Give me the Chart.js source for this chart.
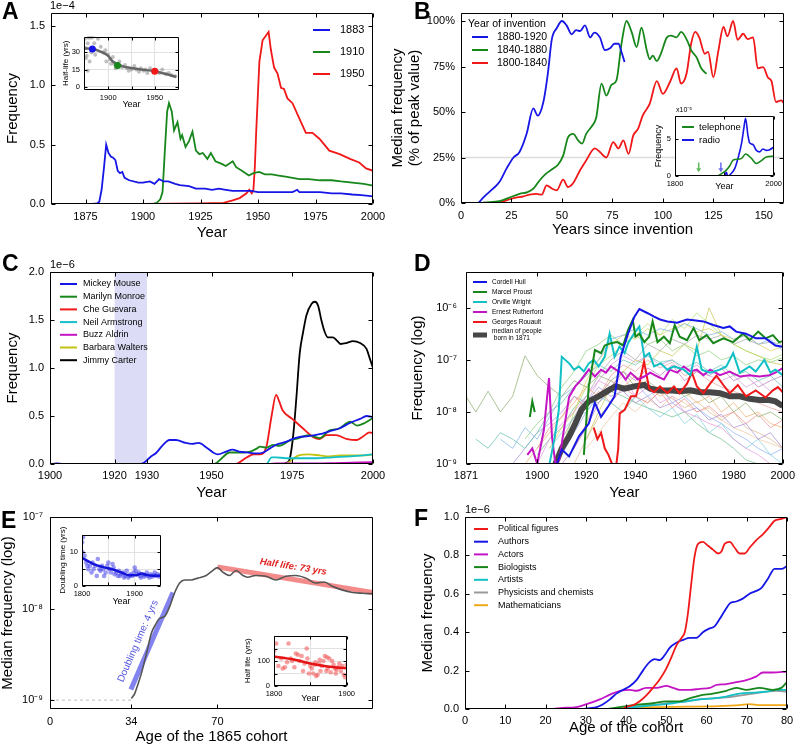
<!DOCTYPE html>
<html lang="en">
<head>
<meta charset="UTF-8">
<title>Fame curves</title>
<script src="https://cdn.jsdelivr.net/npm/chart.js"></script>
<style>
  body { margin: 0; background: #fff; font-family: 'Liberation Sans', Arial, sans-serif; }
  #page { position: relative; width: 800px; height: 746px; overflow: hidden; }
  canvas { position: absolute; }
  .tag { position: absolute; font-weight: bold; font-size: 23px; line-height: 1; }
  .exp { position: absolute; font-size: 11px; line-height: 1; }
</style>
</head>
<body>
<div id="page">
  <canvas id="cA" width="400" height="245" style="left:0;top:0"></canvas>
  <canvas id="cB" width="410" height="245" style="left:390px;top:0"></canvas>
  <canvas id="cC" width="400" height="257" style="left:0;top:245px"></canvas>
  <canvas id="cD" width="400" height="257" style="left:400px;top:245px"></canvas>
  <canvas id="cE" width="400" height="256" style="left:0;top:490px"></canvas>
  <canvas id="cF" width="400" height="256" style="left:400px;top:490px"></canvas>
  <canvas id="iA" width="130" height="84" style="left:55px;top:28px"></canvas>
  <canvas id="iB" width="140" height="86" style="left:645px;top:106px"></canvas>
  <canvas id="iE1" width="112" height="84" style="left:55px;top:526px"></canvas>
  <canvas id="iE2" width="115" height="78" style="left:243px;top:627px"></canvas>

  <div class="tag" style="left:2px;top:0">A</div>
  <div class="tag" style="left:414px;top:0">B</div>
  <div class="tag" style="left:2px;top:252px">C</div>
  <div class="tag" style="left:414px;top:252px">D</div>
  <div class="tag" style="left:1px;top:509px">E</div>
  <div class="tag" style="left:414px;top:507px">F</div>
  <div class="exp" style="left:50px;top:0">1e−4</div>
  <div class="exp" style="left:50px;top:259px">1e−6</div>
  <div class="exp" style="left:465px;top:504px">1e−6</div>
  <div class="exp" style="left:676px;top:106px;font-size:7px">x10⁻⁵</div>
</div>

<script>
// ---------- A: frequency of years ----------
const a1883 = [[1860,0],[1878,0],[1880,0.005],[1881,0.02],[1882,0.12],[1883,0.3],[1884,0.5],[1885,0.43],[1886,0.4],[1887,0.39],[1888,0.37],[1889,0.28],[1890,0.26],[1891,0.27],[1892,0.22],[1894,0.2],[1898,0.18],[1900,0.18],[1903,0.19],[1905,0.17],[1907,0.21],[1909,0.19],[1911,0.19],[1914,0.17],[1916,0.16],[1920,0.15],[1923,0.13],[1927,0.13],[1930,0.12],[1933,0.13],[1936,0.12],[1939,0.11],[1943,0.11],[1947,0.11],[1950,0.1],[1953,0.1],[1957,0.1],[1961,0.1],[1965,0.1],[1966,0.11],[1967,0.12],[1968,0.1],[1972,0.1],[1977,0.1],[1982,0.09],[1986,0.09],[1991,0.08],[1995,0.075],[2000,0.065]];
const a1910 = [[1860,0],[1904,0],[1906,0.01],[1907.5,0.04],[1908.5,0.1],[1909.5,0.45],[1910.5,0.78],[1911.3,0.85],[1912.5,0.78],[1913.5,0.62],[1915,0.69],[1916.3,0.55],[1917,0.58],[1918.5,0.48],[1920,0.53],[1921.5,0.61],[1923,0.45],[1924.5,0.42],[1926,0.43],[1928,0.38],[1929.5,0.43],[1931.5,0.36],[1934,0.34],[1936,0.32],[1939,0.36],[1940.5,0.31],[1943,0.28],[1946,0.24],[1948,0.26],[1950.5,0.27],[1953,0.25],[1956,0.25],[1959,0.24],[1962,0.23],[1965,0.22],[1968,0.21],[1972,0.21],[1977,0.2],[1982,0.2],[1986,0.19],[1991,0.18],[1996,0.17],[2000,0.155]];
const a1950 = [[1860,0],[1900,0],[1925,0.005],[1935,0.01],[1939,0.03],[1942,0.05],[1945,0.09],[1946.2,0.12],[1947.3,0.09],[1948,0.12],[1948.6,0.3],[1949.2,0.6],[1950.6,1.2],[1952,1.38],[1953.5,1.42],[1954.6,1.45],[1955.6,1.3],[1957,1.15],[1958.5,1.1],[1960,0.98],[1961.3,0.97],[1962.8,0.89],[1965,0.85],[1968,0.72],[1970.8,0.6],[1973.7,0.6],[1976.7,0.55],[1981,0.45],[1985.5,0.42],[1990,0.38],[1994,0.35],[1997,0.3],[2000,0.28]];
const aXTicks = [1875, 1900, 1925, 1950, 1975, 2000];
const aYTicks = [0, 0.5, 1.0, 1.5];
// inset A: half-life by year
const aiPoints = [[1875,42],[1876,25],[1877,27],[1878,38],[1879,43],[1880,44],[1882,43],[1884,44],[1885,38],[1876,34],[1880,22],[1878,14],[1882,30],[1886,28],[1889,42],[1892,35],[1895,30],[1897,32],[1898,22],[1900,28],[1902,24],[1903,20],[1905,26],[1906,20],[1908,16],[1912,22],[1915,17],[1918,19],[1920,16],[1922,14],[1925,15],[1928,18],[1930,15],[1933,13],[1935,16],[1938,14],[1940,15],[1942,12],[1945,16],[1948,13],[1952,14],[1955,12],[1958,15],[1962,11],[1965,12],[1968,10],[1972,9]];
const aiFit = [[1874,33.5],[1884,33],[1891,31],[1900,27],[1905,22],[1911,19.5],[1917,17.5],[1923,16.5],[1935,15],[1950,13.5],[1962,11],[1973,8.5]];
const aiMarks = [[1883,33],[1910,18.5],[1950,13.5]];

// ---------- B: inventions ----------
const b1880 = [[0,0],[8,0],[9,0.5],[11,3],[16,8],[19,11.5],[22.6,19],[26,25],[29,28],[32.5,38],[35.8,52],[38,48],[40.8,55.5],[43,71],[45,90],[47.4,96],[50,100],[52.3,97.6],[54.8,92.7],[57,95],[59,94.5],[61.4,97.6],[64,91],[66,93.6],[68.8,91],[71.3,84],[73.8,85],[76,87.5],[78,87.5],[79.5,83],[81,77.5]];
const b1840 = [[0,0],[10,0],[11,0.2],[19,1],[24,3],[29,5],[33,6],[36,8],[39,12.5],[42,16],[45.7,19],[48,21],[50.6,26],[53,36],[55.6,38],[58,34.4],[60,32.6],[62,38],[64.7,42],[67,47],[69.6,65.6],[72,59],[74.6,65],[77,67.4],[79.5,87.5],[82,100],[84.5,94],[87,85.7],[89.4,96.3],[92,84],[93.5,79],[95,81],[97,78],[99,82],[102,91],[104,92],[106.8,91],[109,94],[112,89.4],[114,84],[116.7,80],[119,74],[121.6,71]];
const b1800 = [[0,0],[18,0],[19,0.2],[26,2.7],[31,3.7],[34,4.6],[37.5,5],[40,4.6],[42.4,9.7],[45,8],[47.4,7],[50.6,12.8],[53,8.8],[55.6,11],[59,18],[62,23.4],[66.3,30],[68.8,28],[72,25],[75.4,33.5],[78,30],[80.4,34.4],[83,27],[85.3,37],[87.8,41],[90,48],[93.5,54.6],[97,67],[100,60],[103.5,66.5],[106.8,74],[109,65.6],[111.7,71],[114,87.5],[116,94],[118,91],[120.8,82],[122.4,83],[125,69],[127.4,83],[130,96.7],[132,91.6],[134.8,100],[137,89.7],[139.8,93],[142,90],[144.7,91],[147,74],[149.7,74.7],[152,69],[153.8,67],[156,55.5],[158.7,56.4],[160,54.6]];
const bQuarter = [[0,25],[160,25]];
const bXTicks = [0, 25, 50, 75, 100, 125, 150];
const bYTicks = [0, 25, 50, 75, 100];
// inset B: telephone vs radio
const biTelephone = [[1800,0],[1884,0],[1898,0.5],[1904,0.8],[1911,1.4],[1918,2.2],[1928,2.3],[1935,2.4],[1943,3.0],[1955,2.4],[1965,1.7],[1975,2.1],[1985,2.6],[2000,2.7]];
const biRadio = [[1800,0],[1900,0],[1904,0.5],[1907,0],[1912,0.2],[1921,1.0],[1928,2.5],[1935,4.5],[1939.5,6.5],[1943,7.9],[1948,5.5],[1951.5,4.5],[1958,4.3],[1965,3.5],[1972,3.3],[1978,3.7],[1985,3.5],[1992,3.6],[1999,3.9]];
const biArrows = [[1848, 1.85, 0.5], [1893, 1.85, 0.5]];

// ---------- C: famous people ----------
const cMickey = [[1900,0],[1902,0.005],[1904,0],[1928,0],[1929,0.01],[1931,0.07],[1933,0.12],[1935,0.2],[1937,0.25],[1939,0.25],[1942,0.22],[1944,0.21],[1946,0.22],[1948.5,0.17],[1950.5,0.12],[1952,0.1],[1954.5,0.13],[1956.5,0.15],[1958.5,0.13],[1961,0.12],[1964,0.11],[1966,0.12],[1968,0.16],[1970,0.2],[1973,0.23],[1975,0.26],[1977,0.28],[1980,0.29],[1983.5,0.31],[1986.5,0.34],[1989.5,0.37],[1993,0.43],[1996,0.47],[1998,0.5],[2000,0.49]];
const cMarilyn = [[1900,0],[1950,0],[1951.5,0.01],[1953.5,0.07],[1955.5,0.12],[1959,0.12],[1962,0.13],[1964,0.16],[1965,0.18],[1967,0.17],[1969,0.2],[1971,0.19],[1974,0.24],[1977,0.27],[1980,0.3],[1983.5,0.27],[1986.5,0.35],[1989.5,0.37],[1993,0.44],[1995,0.4],[1997,0.42],[2000,0.48]];
const cChe = [[1900,0],[1957,0],[1958,0.005],[1961,0.07],[1963,0.1],[1965,0.1],[1967,0.18],[1968.6,0.5],[1970,0.72],[1971,0.65],[1972,0.56],[1975,0.47],[1978,0.38],[1981.5,0.28],[1983.5,0.26],[1985.5,0.3],[1988.5,0.3],[1992,0.26],[1995,0.25],[1997,0.29],[1999,0.33],[2000,0.32]];
const cNeil = [[1900,0],[1967,0],[1968.6,0.07],[1970,0.07],[1973,0.06],[1977,0.06],[1982.5,0.06],[1987.5,0.07],[1993,0.08],[2000,0.1]];
const cBuzz = [[1900,0],[1968,0],[1970,0.005],[1977,0.005],[1988,0.01],[2000,0.02]];
const cBarbara = [[1900,0],[1973,0],[1974,0.02],[1977,0.09],[1980,0.1],[1983.5,0.09],[1986.5,0.08],[1990,0.09],[1994,0.09],[1997,0.09],[2000,0.1]];
const cCarter = [[1900,0],[1972,0],[1973.2,0.01],[1974.2,0.05],[1975.3,0.3],[1976.3,0.7],[1977.3,1.15],[1978.4,1.38],[1979.4,1.55],[1981,1.67],[1982,1.69],[1983,1.65],[1984,1.5],[1985,1.38],[1986,1.32],[1987.6,1.32],[1989,1.28],[1990,1.25],[1991.8,1.26],[1993.8,1.28],[1996,1.26],[1998,1.2],[1999,1.1],[2000,1.0]];
const cBand = [1920, 1930];
const cXTicks = [1900, 1920, 1930, 1950, 1975, 2000];
const cYTicks = [0, 0.5, 1.0, 1.5, 2.0];

// ---------- D: people born in 1871 (log) ----------
const dHull = [[1908,1e-9],[1910,1.9e-9],[1913,1.4e-9],[1917,3.4e-9],[1921,6e-9],[1923.5,1.5e-8],[1926,8e-9],[1929,1.3e-8],[1931.5,2e-8],[1934,1.15e-7],[1937,3.2e-7],[1939.6,6.8e-7],[1941.6,9.5e-7],[1945,7.9e-7],[1947.6,6.8e-7],[1950,6e-7],[1953,5.5e-7],[1957,5.2e-7],[1961,6e-7],[1963.7,5.8e-7],[1967.7,5.5e-7],[1971.7,4.7e-7],[1975.8,4.1e-7],[1978.4,4.4e-7],[1981,3.5e-7],[1985,3.2e-7],[1989,2.6e-7],[1993,2.6e-7],[1997,1.9e-7],[2000,1.8e-7]];
const dProust = [[1897,8e-9],[1898,1.6e-8],[1899,1e-8],[1900,null],[1919,1.5e-9],[1921,3.1e-8],[1923.5,1.55e-7],[1926,1.35e-7],[1927.5,1.9e-7],[1930,2.1e-7],[1932.6,2.2e-7],[1935,1.9e-7],[1937,3.8e-7],[1938.9,5.9e-7],[1940,2.8e-7],[1941.6,3.2e-7],[1943.6,2.2e-7],[1945.6,2.8e-7],[1947,5.5e-7],[1949,2.2e-7],[1951.6,2.8e-7],[1954,2.1e-7],[1956,4.7e-7],[1958,2.8e-7],[1961,2.4e-7],[1963.7,4.1e-7],[1966,2.4e-7],[1969,3e-7],[1971.7,2.1e-7],[1975.8,2.6e-7],[1979.8,2.2e-7],[1983.8,3.2e-7],[1986.5,2.4e-7],[1990,3.5e-7],[1993,2.6e-7],[1996,3e-7],[1998.5,2.2e-7],[2000,2.3e-7]];
const dWright = [[1905,1e-9],[1907,3e-9],[1908.8,1.1e-8],[1910,1.15e-7],[1913,8.6e-8],[1915,6.5e-8],[1917,7.5e-8],[1919,6e-8],[1921,8.6e-8],[1923,1e-7],[1925,7.5e-8],[1927.5,1.15e-7],[1929.5,3.2e-7],[1931.5,1.15e-7],[1933.5,1.8e-7],[1935.6,1.35e-7],[1937,2.1e-7],[1939,3e-7],[1941.6,4.4e-7],[1943.6,1.15e-7],[1945.6,1.35e-7],[1947.6,7.5e-8],[1950.3,8.6e-8],[1953,6.5e-8],[1955.7,7.5e-8],[1959.7,6.5e-8],[1962.4,5.1e-8],[1965,1.8e-7],[1967,6.5e-8],[1970.4,5.7e-8],[1974.4,6.5e-8],[1977,7.5e-8],[1979.8,1.35e-7],[1982.5,5.7e-8],[1986.5,7.5e-8],[1989,6e-8],[1992.5,1e-7],[1995,5.7e-8],[1997,6.5e-8],[2000,5.1e-8]];
const dRutherford = [[1896,1.5e-9],[1898,2e-9],[1900,1e-9],[1902.7,4.5e-9],[1904.8,4.5e-8],[1906,3.4e-9],[1907.4,1e-9],[1909,1.2e-9],[1911,5e-9],[1913,1.95e-8],[1915.5,3.1e-8],[1918,4.2e-8],[1921,6.5e-8],[1923.5,4.8e-8],[1926,6.5e-8],[1928,5.7e-8],[1930,7.5e-8],[1932,6.5e-8],[1934,5.7e-8],[1936,4.2e-8],[1938,5.7e-8],[1941,4.2e-8],[1943.6,4.8e-8],[1946,5.7e-8],[1949,4.8e-8],[1951.6,4.2e-8],[1954,6.5e-8],[1957,5.7e-8],[1959.7,7.5e-8],[1962.4,6e-8],[1965,6.5e-8],[1967.7,5.1e-8],[1970.4,6.5e-8],[1974.4,5.1e-8],[1978.4,6e-8],[1982.5,4.8e-8],[1986.5,5.1e-8],[1990.5,4.8e-8],[1994.5,5.1e-8],[1997,5.7e-8],[2000,7e-8]];
const dRouault = [[1923,5e-9],[1924.5,3e-9],[1926,4e-9],[1927.5,2e-9],[1929,1.5e-9],[1930.5,1e-9],[1931.5,5e-10],[1933,2e-9],[1933.6,9.4e-9],[1935.6,1.1e-8],[1938.2,2e-8],[1940.2,2e-8],[1941.6,3.5e-8],[1943.5,9.3e-8],[1945.6,2.8e-8],[1947.6,2.4e-8],[1950,3.1e-8],[1953,2.3e-8],[1955.7,3.1e-8],[1958,2.3e-8],[1961,3.5e-8],[1963,5.7e-8],[1965,3.1e-8],[1967.7,2.3e-8],[1970.4,3.5e-8],[1973,5e-8],[1975.8,3.3e-8],[1978.4,2.3e-8],[1981.7,3.3e-8],[1985,2e-8],[1989,2.6e-8],[1993,1.9e-8],[1996,2.6e-8],[1998,3e-8],[2000,2.4e-8]];
const dMedian = [[1907.4,1e-9],[1910,2e-9],[1913,3.4e-9],[1915.5,6e-9],[1918,1.1e-8],[1921,1.6e-8],[1925,2e-8],[1929,2.6e-8],[1932,3.1e-8],[1935.6,2.8e-8],[1939.6,3.1e-8],[1943.6,3.3e-8],[1946,2.8e-8],[1950,2.6e-8],[1954,2.6e-8],[1958,2.5e-8],[1962.4,2.6e-8],[1966.4,2.4e-8],[1970.4,2.4e-8],[1974.4,2.3e-8],[1978.4,2e-8],[1982.5,2e-8],[1986.5,1.8e-8],[1990.5,1.7e-8],[1994.5,1.7e-8],[1997,1.6e-8],[2000,1.3e-8]];
const dThinYears = [1871,1875,1880,1885,1890,1895,1900,1905,1910,1915,1920,1925,1930,1935,1940,1945,1950,1955,1960,1965,1970,1975,1980,1985,1990,1995,2000];
const dThin = [
  [2e-8,1e-8,2.5e-8,1e-8,2e-8,1.2e-7,5e-8,3e-8,2e-8,4e-8,3e-8,5e-8,4e-8,6e-8,3e-8,4e-8,2.5e-8,3e-8,2e-8,2.5e-8,1.5e-8,2e-8,1e-8,1.5e-8,8e-9,1e-8,7e-9],
  [null,null,null,3e-9,2e-9,5e-9,3e-9,8e-9,2e-8,3e-8,6e-8,1e-7,2.5e-7,3e-7,4e-7,3e-7,4e-7,3.5e-7,5e-7,4e-7,3e-7,3.5e-7,2.5e-7,3e-7,2e-7,2.5e-7,1.5e-7],
  [null,null,null,null,null,1e-9,2e-9,4e-9,8e-9,1.5e-8,3e-8,2e-8,4e-8,3e-8,5e-8,3e-8,2e-8,3e-8,2.5e-8,1.5e-8,2e-8,1e-8,1.5e-8,8e-9,1e-8,6e-9,5e-9],
  [null,null,null,null,null,null,1e-9,3e-9,6e-9,1e-8,2e-8,4e-8,3e-8,5e-8,2e-8,3e-8,1.5e-8,2e-8,1e-8,8e-9,6e-9,5e-9,3e-9,2e-9,1.5e-9,1e-9,8e-10],
  [null,3e-9,2e-9,4e-9,3e-9,2e-9,4e-9,1e-8,1.5e-8,3e-8,5e-8,8e-8,6e-8,1e-7,8e-8,1.2e-7,9e-8,1e-7,7e-8,9e-8,6e-8,8e-8,5e-8,6e-8,4e-8,5e-8,3e-8],
  [null,null,null,null,null,null,null,2e-9,5e-9,1e-8,4e-8,1e-7,2e-7,3e-7,2.5e-7,4e-7,3e-7,4e-7,5e-7,3.5e-7,4e-7,3e-7,2.5e-7,3e-7,2e-7,1.5e-7,1.8e-7],
  [null,null,null,null,1e-9,2e-9,4e-9,6e-9,1e-8,2e-8,1.5e-8,3e-8,2e-8,2.5e-8,1.5e-8,2e-8,1.2e-8,1.5e-8,1e-8,1.2e-8,7e-9,9e-9,5e-9,6e-9,3e-9,4e-9,2e-9],
  [null,null,null,null,null,3e-9,6e-9,1e-8,3e-8,6e-8,1.5e-7,2e-7,3e-7,2e-7,3e-7,2e-7,2.5e-7,1.5e-7,2e-7,1.2e-7,1.5e-7,1e-7,1.2e-7,8e-8,1e-7,9e-8,1.1e-7],
  [null,null,null,null,null,null,2e-9,5e-9,8e-9,2e-8,1.2e-8,2.5e-8,1.5e-8,3e-8,2e-8,1.5e-8,2.5e-8,1.2e-8,1.8e-8,1e-8,1.3e-8,8e-9,1e-8,6e-9,9e-9,5e-9,7e-9],
  [null,null,null,null,null,null,null,null,3e-9,8e-9,2e-8,5e-8,1e-7,1.5e-7,1e-7,2e-7,1.5e-7,2.5e-7,2e-7,3e-7,2.5e-7,3e-7,2e-7,2.5e-7,2e-7,2.2e-7,2e-7],
  [null,null,null,null,null,null,null,2e-9,4e-9,8e-9,1e-8,2e-8,1.5e-8,1e-8,2e-8,1.2e-8,8e-9,1.2e-8,6e-9,9e-9,4e-9,6e-9,3e-9,2e-9,3e-9,1.5e-9,1e-9],
  [null,null,null,null,null,null,null,null,1e-9,2e-9,5e-9,1.5e-8,3e-8,6e-8,4e-8,7e-8,5e-8,8e-8,4e-8,6e-8,5e-8,7e-8,4e-8,5e-8,3e-8,4e-8,5e-8],
  [null,null,null,null,null,null,null,null,null,1e-9,3e-9,8e-9,1.5e-8,1e-8,2e-8,1.5e-8,2.5e-8,1.8e-8,1.2e-8,1.6e-8,1e-8,7e-9,1e-8,5e-9,4e-9,3e-9,2e-9],
  [null,null,null,null,null,null,null,null,2e-9,1e-8,3e-8,8e-8,1.2e-7,2e-7,3e-7,5e-7,3e-7,6e-7,4e-7,8e-7,5e-7,3e-7,2e-7,1.5e-7,1.2e-7,1e-7,1.3e-7],
  [null,null,null,null,null,null,null,null,null,2e-9,6e-9,2e-8,5e-8,8e-8,6e-8,1e-7,7e-8,9e-8,5e-8,6e-8,4e-8,3e-8,2.5e-8,2e-8,1.5e-8,1.2e-8,1e-8],
  [null,null,null,null,null,null,null,null,1.5e-9,4e-9,1e-8,2e-8,4e-8,2.5e-8,3.5e-8,2e-8,3e-8,1.5e-8,2e-8,1.2e-8,8e-9,6e-9,4e-9,3e-9,2e-9,1.5e-9,2e-9],
  [null,null,null,null,null,null,null,null,null,null,3e-9,1e-8,3e-8,6e-8,1e-7,8e-8,1.5e-7,1.2e-7,2e-7,1.5e-7,1e-6,3e-7,2e-7,1.5e-7,1.2e-7,9e-8,8e-8],
  [null,null,null,null,null,null,1.5e-9,3e-9,5e-9,1.2e-8,2e-8,1.5e-8,2.5e-8,2e-8,1.5e-8,1.2e-8,1e-8,8e-9,1e-8,6e-9,4e-9,3e-9,2e-9,1.2e-9,1e-9,8e-10,6e-10],
  [null,null,null,null,null,null,null,null,2e-9,5e-9,1.5e-8,4e-8,8e-8,1.2e-7,9e-8,1.2e-7,8e-8,1e-7,6e-8,8e-8,5e-8,4e-8,5e-8,3e-8,4e-8,2.5e-8,3e-8],
  [null,null,null,null,null,null,null,null,null,null,2e-9,4e-9,8e-9,1.5e-8,1e-8,1.8e-8,1.2e-8,2e-8,1.5e-8,1e-8,1.2e-8,7e-9,5e-9,4e-9,3e-9,2.5e-9,2e-9]
];
const dXTicks = [1871, 1900, 1920, 1940, 1960, 1980, 2000];
const dYTicks = [1e-9, 1e-8, 1e-7, 1e-6];

// ---------- E: 1865 cohort (log) ----------
const eMedian = [[34,1.04e-9],[35.4,1.18e-9],[36.8,1.5e-9],[38.2,1.96e-9],[40.3,3.2e-9],[42.4,5.4e-9],[44.4,6.9e-9],[45.8,7.8e-9],[47.9,8.2e-9],[50,1.05e-8],[52,1.47e-8],[54.2,1.9e-8],[56.3,2.05e-8],[59,2.05e-8],[61.8,2.15e-8],[65.3,2.3e-8],[68,2.6e-8],[70,2.8e-8],[72.2,2.5e-8],[75,2.3e-8],[77.8,2.6e-8],[80.6,2.3e-8],[82.6,2.2e-8],[86,2.3e-8],[90.3,2.25e-8],[94.4,2.05e-8],[98.6,2.25e-8],[102.8,2.3e-8],[107,2.15e-8],[111,1.9e-8],[114.6,1.95e-8],[118,1.75e-8],[122,1.6e-8],[126.4,1.5e-8],[130.6,1.47e-8],[134.7,1.45e-8]];
const eFloor = [[0,1e-9],[34,1e-9]];
const eDoublingFit = [[33.8,1.31e-9],[51.4,1.5e-8]];
const eHalfFit = [[70,2.85e-8],[135,1.5e-8]];
const eXTicks = [0, 34, 70];
const eYTicks = [1e-9, 1e-8, 1e-7];
const eiDoublingPts = [[1800,13],[1801,10],[1802,14.5],[1805,9],[1808,7],[1810,6],[1812,5],[1815,6],[1818,4],[1820,7],[1822,5],[1825,6],[1828,3],[1830,8],[1833,5],[1835,4.5],[1838,6],[1840,5],[1842,3],[1845,4],[1848,6],[1850,7],[1852,5],[1855,4],[1858,6.5],[1860,5.5],[1862,3.5],[1865,4],[1868,3],[1870,4.5],[1872,3],[1875,3.5],[1878,4],[1880,2.5],[1882,3],[1885,4.5],[1888,2.5],[1890,3],[1892,3.5],[1895,3],[1898,4],[1900,5.5],[1902,4.5],[1905,3.5],[1908,4],[1910,3],[1912,2.5],[1915,3.5],[1918,2.8],[1920,3.2],[1923,4],[1925,3],[1928,2.5],[1930,3.5],[1933,2.8],[1935,3.2],[1938,4],[1940,3],[1943,3.5],[1946,2.8],[1949,3.3]];
const eiDoublingFit = [[1800,8.4],[1821,6.6],[1840,5.6],[1859,4.9],[1875,4.0],[1890,3.2],[1903,3.2],[1913,3.7],[1922,3.3],[1935,3.05],[1949,3.0]];
const eiHalfPts = [[1800,140],[1803,170],[1806,80],[1810,110],[1812,70],[1815,75],[1818,95],[1820,170],[1823,110],[1825,100],[1828,75],[1830,130],[1833,125],[1835,100],[1838,120],[1840,60],[1842,90],[1845,150],[1846,110],[1848,50],[1850,80],[1852,70],[1854,50],[1856,85],[1857,95],[1858,40],[1860,45],[1862,90],[1863,105],[1864,60],[1866,80],[1868,100],[1870,120],[1872,60],[1873,115],[1874,70],[1876,110],[1878,55],[1880,100],[1882,85],[1884,70],[1885,50],[1886,65],[1888,75],[1890,90],[1892,60],[1894,80],[1896,45],[1898,35],[1900,85]];
const eiHalfFit = [[1800,118],[1827,106],[1850,90],[1874,78],[1900,71]];

// ---------- F: occupations ----------
const fPolitical = [[0,0],[39,0],[40,0.01],[41.8,0.02],[43.4,0.04],[45,0.07],[46.7,0.11],[48.4,0.155],[50,0.21],[51.3,0.27],[52.5,0.33],[53.8,0.37],[54.6,0.4],[55.4,0.5],[56.2,0.65],[57,0.79],[57.9,0.86],[59.1,0.87],[60.4,0.85],[61.6,0.83],[62.9,0.81],[63.7,0.82],[64.5,0.86],[65.8,0.87],[67,0.84],[68.2,0.81],[69.5,0.81],[70.7,0.84],[72.4,0.88],[74,0.91],[75.7,0.95],[76.9,0.98],[78.6,0.99],[80,1.0]];
const fAuthors = [[0,0],[29,0],[31,0.005],[32.7,0.01],[34.3,0.025],[36,0.05],[37.6,0.08],[39.3,0.1],[41,0.12],[42.6,0.15],[44.2,0.2],[45.9,0.245],[47.1,0.26],[48.4,0.255],[49.6,0.28],[50.9,0.32],[52.5,0.345],[54.2,0.36],[55.8,0.37],[57.5,0.37],[59.1,0.4],[60.8,0.42],[62,0.43],[63.3,0.47],[64.5,0.51],[65.8,0.55],[67.4,0.56],[69,0.575],[70.7,0.6],[72.4,0.615],[73.6,0.63],[75.3,0.68],[76.9,0.73],[78.6,0.73],[80,0.745]];
const fActors = [[0,0],[22,0],[23.6,0.005],[27.7,0.01],[30.2,0.025],[33.5,0.05],[36,0.075],[38.5,0.095],[41,0.1],[42.6,0.095],[45,0.11],[47.6,0.11],[50,0.12],[51.7,0.11],[53.3,0.1],[55.8,0.1],[58.3,0.105],[60.8,0.11],[62.4,0.125],[64.9,0.13],[67.4,0.14],[69.9,0.15],[72.4,0.17],[74,0.19],[76.5,0.19],[80,0.195]];
const fBiologists = [[0,0],[35,0],[36.8,0.005],[41.8,0.02],[46.7,0.03],[50,0.04],[53.3,0.04],[55.8,0.055],[58.3,0.07],[61.6,0.08],[64.9,0.095],[67.4,0.11],[69.9,0.1],[73.2,0.11],[76.5,0.1],[78.6,0.11],[80,0.14]];
const fArtists = [[0,0],[38,0],[41.8,0.01],[46.7,0.02],[51.7,0.03],[55,0.04],[58.3,0.05],[61.6,0.055],[64.9,0.065],[68.2,0.08],[71.6,0.085],[74.9,0.09],[77.4,0.1],[80,0.1]];
const fPhysicists = [[0,0],[38,0],[41.8,0.01],[46.7,0.02],[51.7,0.035],[55,0.04],[58.3,0.05],[61.6,0.055],[64.9,0.06],[68.2,0.07],[71.6,0.08],[74.9,0.09],[77.4,0.095],[80,0.09]];
const fMath = [[0,0],[36,0],[46.7,0.01],[55,0.012],[63,0.015],[68.2,0.02],[70.7,0.025],[73,0.02],[80,0.02]];
const fXTicks = [0, 10, 20, 30, 40, 50, 60, 70, 80];
const fYTicks = [0, 0.2, 0.4, 0.6, 0.8, 1.0];

// ---------- helpers ----------
Chart.defaults.font.family = "'Liberation Sans', Arial, sans-serif";
Chart.defaults.color = '#000';

const BLUE = '#1616e6', GREEN = '#17871b', RED = '#f01818', CYAN = '#12c0c6', MAGENTA = '#c414c4', OLIVE = '#c2c212';

const pts = arr => arr.map(p => ({ x: p[0], y: p[1] }));
function line(label, arr, color, w, smooth) {
  return { label, data: pts(arr), borderColor: color, backgroundColor: color, borderWidth: w || 1.8,
           pointRadius: 0, fill: false, spanGaps: false,
           cubicInterpolationMode: smooth ? 'monotone' : 'default', tension: 0 };
}
function dots(arr, color, r) {
  return { data: pts(arr), showLine: false, pointRadius: r || 2, pointBorderWidth: 0,
           pointBackgroundColor: color, borderColor: color, backgroundColor: color };
}
const supMap = { '-': '⁻', '0': '⁰', '1': '¹', '2': '²', '3': '³', '4': '⁴', '5': '⁵', '6': '⁶', '7': '⁷', '8': '⁸', '9': '⁹' };
const pow10 = v => '10' + String(Math.round(Math.log10(v))).replace(/./g, c => supMap[c]);

function xAxis(o) {
  return {
    type: o.type || 'linear', min: o.min, max: o.max,
    grid: { display: !!o.grid, color: '#e2e2e2', drawTicks: false }, border: { display: false },
    ticks: { padding: o.pad ?? 5, autoSkip: false, maxRotation: 0, font: { size: o.size || 11 },
             callback: o.fmt || (v => String(v)) },
    afterBuildTicks: s => { s.ticks = o.ticks.map(v => ({ value: v })); },
    afterFit: s => { s.height = o.h; },
    title: { display: !!o.title, text: o.title, font: { size: o.tsize || 15, lineHeight: 1.2 },
             padding: { top: 0, bottom: o.tpad || 0 } }
  };
}
function yAxis(o) {
  return {
    type: o.type || 'linear', min: o.min, max: o.max,
    grid: { display: !!o.grid, color: '#e2e2e2', drawTicks: false }, border: { display: false },
    ticks: { padding: o.pad ?? 6, autoSkip: false, font: { size: o.size || 11 },
             callback: o.fmt || (v => String(v)) },
    afterBuildTicks: s => { s.ticks = o.ticks.map(v => ({ value: v })); },
    afterFit: s => { s.width = o.w; },
    title: { display: !!o.title, text: o.title, font: { size: o.tsize || 15, lineHeight: o.tlh || 1.2 },
             padding: { top: o.tpad || 0, bottom: 0 } }
  };
}

// frame box with inward ticks on all four sides, optional white fill and shaded band
function frame(o = {}) {
  return {
    id: 'frame',
    beforeDraw(chart) {
      if (!o.fill) return;
      const a = chart.chartArea, c = chart.ctx;
      c.save(); c.fillStyle = o.fill; c.fillRect(a.left, a.top, a.width, a.height); c.restore();
    },
    beforeDatasetsDraw(chart) {
      if (!o.band) return;
      const a = chart.chartArea, c = chart.ctx, sx = chart.scales.x;
      const x0 = sx.getPixelForValue(o.band[0]), x1 = sx.getPixelForValue(o.band[1]);
      c.save(); c.fillStyle = o.bandColor; c.fillRect(x0, a.top, x1 - x0, a.height); c.restore();
    },
    afterDraw(chart) {
      const a = chart.chartArea, c = chart.ctx, len = o.tick || 4;
      const sx = chart.scales.x, sy = chart.scales.y;
      const L = Math.round(a.left) + 0.5, R = Math.round(a.right) - 0.5;
      const T = Math.round(a.top) + 0.5, B = Math.round(a.bottom) - 0.5;
      c.save(); c.strokeStyle = '#000'; c.lineWidth = o.lw || 1;
      c.beginPath();
      c.rect(L, T, R - L, B - T);
      sx.ticks.forEach(t => {
        const p = Math.round(sx.getPixelForValue(t.value)) + 0.5;
        c.moveTo(p, B); c.lineTo(p, B - len); c.moveTo(p, T); c.lineTo(p, T + len);
      });
      sy.ticks.forEach(t => {
        const p = Math.round(sy.getPixelForValue(t.value)) + 0.5;
        c.moveTo(L, p); c.lineTo(L + len, p); c.moveTo(R, p); c.lineTo(R - len, p);
      });
      c.stroke(); c.restore();
    }
  };
}

// legend drawn inside the plot area
function key(o) {
  return {
    id: 'key',
    afterDraw(chart) {
      const a = chart.chartArea, c = chart.ctx;
      c.save(); c.font = o.font; c.textBaseline = 'middle'; c.fillStyle = '#000';
      const x = a.left + o.x; let y = a.top + o.y;
      if (o.title) { c.fillText(o.title, x + (o.titleDx || 0), y); y += o.rowH; }
      o.rows.forEach(r => {
        const ds = chart.data.datasets[r.i];
        c.strokeStyle = ds.borderColor; c.lineWidth = r.w || 2;
        c.beginPath(); c.moveTo(x, y); c.lineTo(x + o.len, y); c.stroke();
        const lines = [].concat(r.text || ds.label);
        lines.forEach((t, k) => c.fillText(t, x + o.len + o.gap, y + (k - (lines.length - 1) / 2) * (o.lineH || 8)));
        y += o.rowH * (r.span || 1);
      });
      c.restore();
    }
  };
}

// rotated text and small arrows placed in data coordinates
function notes(items, arrows) {
  return {
    id: 'notes',
    afterDatasetsDraw(chart) {
      const c = chart.ctx, sx = chart.scales.x, sy = chart.scales.y;
      (items || []).forEach(n => {
        c.save();
        c.translate(sx.getPixelForValue(n.x), sy.getPixelForValue(n.y));
        c.rotate(n.angle * Math.PI / 180);
        c.font = n.font; c.fillStyle = n.color; c.textAlign = 'center'; c.textBaseline = 'middle';
        c.fillText(n.text, 0, 0);
        c.restore();
      });
      (arrows || []).forEach(ar => {
        const px = sx.getPixelForValue(ar.x), y0 = sy.getPixelForValue(ar.y0), y1 = sy.getPixelForValue(ar.y1);
        c.save(); c.strokeStyle = ar.color; c.fillStyle = ar.color; c.lineWidth = 1.5;
        c.beginPath(); c.moveTo(px, y0); c.lineTo(px, y1 - 3); c.stroke();
        c.beginPath(); c.moveTo(px - 2.5, y1 - 4); c.lineTo(px + 2.5, y1 - 4); c.lineTo(px, y1); c.closePath(); c.fill();
        c.restore();
      });
    }
  };
}

function make(id, datasets, scales, padding, plugins) {
  return new Chart(document.getElementById(id), {
    type: 'line',
    data: { datasets },
    options: {
      responsive: false, animation: false, layout: { padding },
      plugins: { legend: { display: false }, tooltip: { enabled: false } },
      scales
    },
    plugins
  });
}
const fmt1 = v => v.toFixed(1);

// ---------- panel A ----------
make('cA', [
  line('1883', a1883, BLUE),
  line('1910', a1910, GREEN),
  line('1950', a1950, RED)
], {
  x: xAxis({ min: 1860, max: 2000, ticks: aXTicks, h: 41, title: 'Year', tpad: 3, pad: 6 }),
  y: yAxis({ min: 0, max: 1.61, ticks: aYTicks, w: 51, title: 'Frequency', tpad: 4, fmt: fmt1 })
}, { top: 13, right: 27 }, [frame(), key({ x: 262, y: 17, rowH: 22, len: 17, gap: 10, font: '11px "Liberation Sans", Arial',
  rows: [{ i: 0 }, { i: 1 }, { i: 2 }] })]);

make('iA', [
  dots(aiMarks.slice(0, 1), BLUE, 3.5),
  dots(aiMarks.slice(1, 2), GREEN, 3.5),
  dots(aiMarks.slice(2, 3), RED, 3.5),
  line('fit', aiFit, '#666', 2.5, true),
  dots(aiPoints, 'rgba(150,150,150,0.6)', 2)
], {
  x: xAxis({ min: 1874, max: 1976, ticks: [1900, 1925, 1950], fmt: v => v === 1925 ? '' : String(v), grid: true,
             h: 22, size: 7.5, pad: 3, title: 'Year', tsize: 9, tpad: 2 }),
  y: yAxis({ min: -3, max: 44, ticks: [0, 15, 30], grid: true, w: 29, size: 7.5, pad: 4,
             title: 'Half-life (yrs)', tsize: 8, tpad: 6 })
}, { top: 4, right: 6 }, [frame({ fill: '#fff', tick: 3 })]);

// ---------- panel B ----------
make('cB', [
  line('1880-1920', b1880, BLUE, 1.8, true),
  line('1840-1880', b1840, GREEN, 1.8, true),
  line('1800-1840', b1800, RED, 1.8, true),
  line('', bQuarter, '#dcdcdc', 1.5)
], {
  x: xAxis({ min: 0, max: 160, ticks: bXTicks, h: 42, title: 'Years since invention', tpad: 6, pad: 6 }),
  y: yAxis({ min: 0, max: 104.4, ticks: bYTicks, w: 71, fmt: v => v + '%',
             title: ['Median frequency', '(% of peak value)'], tlh: 1.1, tpad: 0 })
}, { top: 13, right: 16 }, [frame(), key({ x: 11, y: 11, rowH: 13, len: 16, gap: 9, title: 'Year of invention', titleDx: -4,
  font: '10.5px "Liberation Sans", Arial', rows: [{ i: 0 }, { i: 1 }, { i: 2 }] })]);

make('iB', [
  line('telephone', biTelephone, GREEN, 1.6, true),
  line('radio', biRadio, BLUE, 1.6, true)
], {
  x: xAxis({ min: 1800, max: 2000, ticks: [1800, 1900, 2000], fmt: v => v === 1900 ? '' : String(v),
             h: 16, size: 7.5, pad: 3, title: 'Year', tsize: 9, tpad: 0 }),
  y: yAxis({ min: 0, max: 8.2, ticks: [0, 5], w: 30, size: 7.5, pad: 4, title: 'Frequency', tsize: 9, tpad: 8 })
}, { top: 10, right: 11 }, [frame({ fill: '#fff', tick: 3 }),
  key({ x: 7, y: 11, rowH: 13, len: 12, gap: 5, font: '9.5px "Liberation Sans", Arial', rows: [{ i: 0 }, { i: 1 }] }),
  notes([], biArrows.map((a, k) => ({ x: a[0], y0: a[1], y1: a[2], color: k ? '#6a6af0' : '#5fb85f' })))]);

// ---------- panel C ----------
make('cC', [
  line('Mickey Mouse', cMickey, BLUE, 1.8, true),
  line('Marilyn Monroe', cMarilyn, GREEN, 1.8, true),
  line('Che Guevara', cChe, RED, 1.8, true),
  line('Neil Armstrong', cNeil, CYAN, 1.8, true),
  line('Buzz Aldrin', cBuzz, MAGENTA, 1.8, true),
  line('Barbara Walters', cBarbara, OLIVE, 1.8, true),
  line('Jimmy Carter', cCarter, '#000', 1.8, true)
], {
  x: xAxis({ min: 1900, max: 2000, ticks: cXTicks, h: 38, title: 'Year', tpad: 0, pad: 5 }),
  y: yAxis({ min: 0, max: 2.0, ticks: cYTicks, w: 50, title: 'Frequency', tpad: 4, fmt: fmt1 })
}, { top: 27, right: 27 }, [frame({ band: cBand, bandColor: '#dcdcf6' }),
  key({ x: 10, y: 12, rowH: 12.7, len: 17, gap: 6, font: '9px "Liberation Sans", Arial',
        rows: [0, 1, 2, 3, 4, 5, 6].map(i => ({ i })) })]);

// ---------- panel D ----------
const dThinColors = ['#8fae6f', '#7fb2e5', '#f0b070', '#e59ad8', '#66c2b0', '#e0d060', '#a890d8',
                     '#90d080', '#f09090', '#a8a8a8', '#80d0e0', '#c080c0', '#d8b890', '#b0e070',
                     '#e8a0a0', '#90b0f0', '#c8c850', '#70c090', '#d0a0e0', '#f0c8a0'];
const dSets = [
  line('Cordell Hull', dHull, BLUE, 2),
  line('Marcel Proust', dProust, GREEN, 2),
  line('Orville Wright', dWright, CYAN, 2),
  line('Ernest Rutherford', dRutherford, MAGENTA, 2),
  line('Georges Rouault', dRouault, RED, 2),
  line('median of people born in 1871', dMedian, 'rgba(55,55,55,0.92)', 6)
];
dThin.forEach((vals, k) => {
  dSets.push(line('', dThinYears.map((y, j) => [y, vals[j]]), dThinColors[k] + 'd0', 0.9));
});
make('cD', dSets, {
  x: xAxis({ min: 1871, max: 2000, ticks: dXTicks, h: 38, title: 'Year', tpad: 0, pad: 5 }),
  y: yAxis({ type: 'logarithmic', min: 1e-9, max: 4.9e-6, ticks: dYTicks, w: 66, fmt: pow10, pad: 9,
             title: 'Frequency (log)', tpad: 9 })
}, { top: 27, right: 13 }, [frame(),
  key({ x: 7, y: 10, rowH: 10, len: 14, gap: 5, lineH: 7, font: '6.5px "Liberation Sans", Arial',
        rows: [{ i: 0 }, { i: 1 }, { i: 2 }, { i: 3 }, { i: 4 }, { i: 5, w: 5, text: ['median of people', ' born in 1871'] }]
             .map((r, k) => k === 4 ? Object.assign(r, { span: 1.3 }) : r) })]);

// ---------- panel E ----------
make('cE', [
  line('median', eMedian, '#555', 1.6, true),
  Object.assign(line('', eFloor, '#bdbdbd', 1), { borderDash: [3, 3] }),
  line('', eDoublingFit, 'rgba(90,90,235,0.75)', 5),
  line('', eHalfFit, 'rgba(240,90,90,0.7)', 5)
], {
  x: xAxis({ min: 0, max: 135, ticks: eXTicks, h: 37, title: 'Age of the 1865 cohort', tpad: 0, pad: 6 }),
  y: yAxis({ type: 'logarithmic', min: 8e-10, max: 1e-7, ticks: eYTicks, w: 50, fmt: pow10, pad: 7,
             title: 'Median frequency (log)', tlh: 1, tpad: 0 })
}, { top: 27, right: 27 }, [frame(), notes([
  { x: 36.8, y: 4.4e-9, angle: -66.5, text: 'Doubling time: 4 yrs', color: '#5555e0', font: '10px "Liberation Sans", Arial' },
  { x: 101.7, y: 2.85e-8, angle: 9, text: 'Half life: 73 yrs', color: '#e02020', font: 'italic bold 9.5px "Liberation Sans", Arial' }
])]);

make('iE1', [
  line('', eiDoublingFit, '#1414d8', 2.5, true),
  dots(eiDoublingPts, 'rgba(70,70,235,0.55)', 2.3)
], {
  x: xAxis({ min: 1800, max: 1950, ticks: [1800, 1850, 1900], fmt: v => v === 1850 ? '' : String(v), grid: true,
             h: 24, size: 7.5, pad: 3, title: 'Year', tsize: 9, tpad: 3 }),
  y: yAxis({ min: 0, max: 15.3, ticks: [0, 5, 10], fmt: v => v === 5 ? '' : String(v), grid: true, w: 27,
             size: 7.5, pad: 4, title: 'Doubling time (yrs)', tsize: 8, tpad: 3 })
}, { top: 5, right: 6 }, [frame({ fill: '#fff', tick: 3 })]);

make('iE2', [
  line('', eiHalfFit, '#e41414', 2.5, true),
  dots(eiHalfPts, 'rgba(240,80,80,0.55)', 2.3)
], {
  x: xAxis({ min: 1800, max: 1900, ticks: [1800, 1850, 1900], fmt: v => v === 1850 ? '' : String(v), grid: true,
             h: 19, size: 7.5, pad: 3, title: 'Year', tsize: 9, tpad: 1 }),
  y: yAxis({ min: 0, max: 202, ticks: [0, 50, 100, 150], fmt: v => (v === 0 || v === 100) ? String(v) : '', grid: true,
             w: 31, size: 7.5, pad: 4, title: 'Half life (yrs)', tsize: 8, tpad: 0 })
}, { top: 5, right: 6 }, [frame({ fill: '#fff', tick: 3 })]);

// ---------- panel F ----------
make('cF', [
  line('Political figures', fPolitical, RED, 1.8, true),
  line('Authors', fAuthors, BLUE, 1.8, true),
  line('Actors', fActors, MAGENTA, 1.8, true),
  line('Biologists', fBiologists, GREEN, 1.8, true),
  line('Artists', fArtists, CYAN, 1.8, true),
  line('Physicists and chemists', fPhysicists, '#9a9a9a', 1.8, true),
  line('Mathematicians', fMath, '#f0a818', 1.8, true)
], {
  x: xAxis({ min: 0, max: 80, ticks: fXTicks, h: 37, title: 'Age of the cohort', tpad: 9, pad: 5 }),
  y: yAxis({ min: 0, max: 1.0, ticks: fYTicks, w: 65, title: 'Median frequency', tpad: 19, fmt: fmt1 })
}, { top: 27, right: 13 }, [frame(),
  key({ x: 9, y: 12, rowH: 12.7, len: 14, gap: 10, font: '9px "Liberation Sans", Arial',
        rows: [0, 1, 2, 3, 4, 5, 6].map(i => ({ i })) })]);
</script>
</body>
</html>
